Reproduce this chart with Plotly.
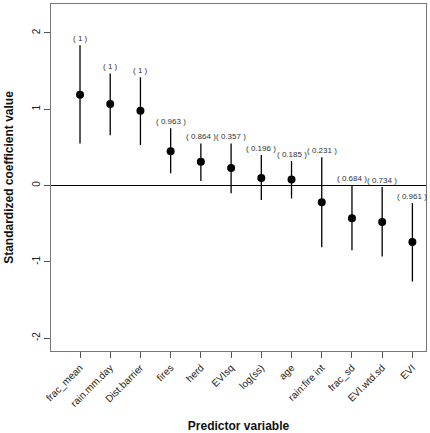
import plotly.graph_objects as go

predictors = ["frac_mean", "rain.mm.day", "Dist.barrier", "fires", "herd", "EVIsq",
              "log(ss)", "age", "rain:fire int", "frac_sd", "EVI.wtd.sd", "EVI"]
estimate = [1.19, 1.07, 0.98, 0.45, 0.31, 0.23, 0.10, 0.08, -0.22, -0.43, -0.48, -0.74]
upper = [1.84, 1.47, 1.42, 0.75, 0.55, 0.55, 0.40, 0.32, 0.37, 0.00, -0.02, -0.23]
lower = [0.55, 0.66, 0.53, 0.16, 0.06, -0.10, -0.19, -0.17, -0.81, -0.85, -0.93, -1.26]
importance = ["1", "1", "1", "0.963", "0.864", "0.357", "0.196", "0.185", "0.231",
              "0.684", "0.734", "0.961"]
y_ticks = [-2, -1, 0, 1, 2]

xpos = list(range(1, len(predictors) + 1))
font_family = "Liberation Sans, Arial, sans-serif"

fig = go.Figure()
fig.add_trace(go.Scatter(
    x=xpos, y=estimate, mode="markers",
    marker=dict(color="black", size=8),
    error_y=dict(type="data", symmetric=False,
                 array=[u - e for u, e in zip(upper, estimate)],
                 arrayminus=[e - l for e, l in zip(estimate, lower)],
                 color="black", thickness=1.3, width=0),
    showlegend=False, hoverinfo="skip",
))

for x, u, lab in zip(xpos, upper, importance):
    fig.add_annotation(x=x, y=u, text=f"( {lab} )", showarrow=False,
                       yshift=7, yanchor="middle", xanchor="center",
                       font=dict(size=8, color="#333", family=font_family))

fig.add_shape(type="line", xref="paper", x0=0, x1=1, yref="y", y0=0, y1=0,
              line=dict(color="black", width=1))

fig.update_layout(
    width=430, height=433,
    margin=dict(l=51, r=3, t=3, b=80),
    paper_bgcolor="white", plot_bgcolor="white",
    font=dict(family=font_family, color="#222"),
    xaxis=dict(range=[0.04, 12.45], tickmode="array", tickvals=xpos, ticktext=predictors,
               tickangle=-45, ticks="outside", ticklen=6, tickcolor="#555",
               showline=True, linecolor="#777", linewidth=1, mirror=True,
               showgrid=False, zeroline=False, tickfont=dict(size=10, color="#222"),
               title=dict(text="<b>Predictor variable</b>", font=dict(size=12, color="#111"),
                          standoff=13)),
    yaxis=dict(range=[-2.17, 2.38], tickmode="array", tickvals=y_ticks,
               ticktext=[str(v) for v in y_ticks],
               tickangle=-90, ticks="outside", ticklen=6, tickcolor="#555",
               showline=True, linecolor="#777", linewidth=1, mirror=True,
               showgrid=False, zeroline=False, tickfont=dict(size=10, color="#222"),
               title=dict(text="<b>Standardized coefficient value</b>",
                          font=dict(size=12, color="#111"), standoff=14)),
)

fig.write_html("out.html", config={"displayModeBar": False},
               post_script="document.body.style.margin='0';")
